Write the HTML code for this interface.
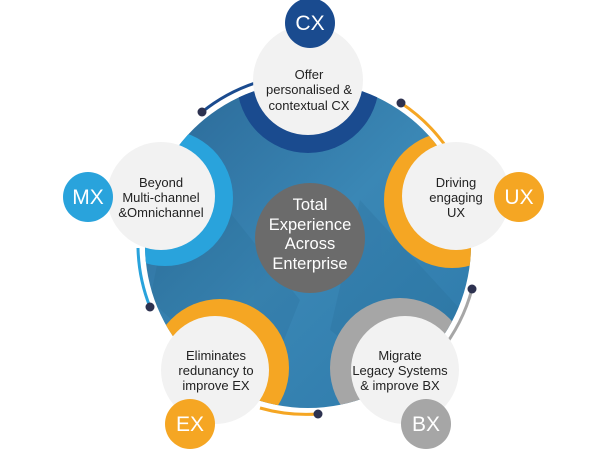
<!DOCTYPE html>
<html><head><meta charset="utf-8"><style>
html,body{margin:0;padding:0;background:#fff;}
svg{display:block;}
text{font-family:"Liberation Sans","DejaVu Sans",sans-serif;}
</style></head><body>
<svg width="600" height="450" viewBox="0 0 600 450" xmlns="http://www.w3.org/2000/svg">
<defs>
<linearGradient id="bg" x1="0" y1="0" x2="1" y2="1">
<stop offset="0" stop-color="#2a6796"/><stop offset="0.5" stop-color="#3a87b5"/><stop offset="1" stop-color="#2d79aa"/>
</linearGradient>
<clipPath id="big"><circle cx="308" cy="245" r="163"/></clipPath>
</defs>
<g fill="none" stroke-width="3">
<path d="M202,112 A170,170 0 0 1 255,83" stroke="#1a4b8f"/>
<path d="M401,103 A170,170 0 0 1 447,148" stroke="#f5a623"/>
<path d="M472,289 A170,170 0 0 1 440,352" stroke="#a6a6a6"/>
<path d="M260,408 A170,170 0 0 0 318,414" stroke="#f5a623"/>
<path d="M150,307 A170,170 0 0 1 138,248" stroke="#29a3dc"/>
</g>
<g fill="#2d3250">
<circle cx="202" cy="112" r="4.5"/><circle cx="401" cy="103" r="4.5"/><circle cx="472" cy="289" r="4.5"/><circle cx="318" cy="414" r="4.5"/><circle cx="150" cy="307" r="4.5"/>
</g>
<circle cx="308" cy="245" r="163" fill="url(#bg)"/>
<g clip-path="url(#big)" opacity="0.08" fill="#0d3a5e">
<polygon points="180,150 300,300 260,400 150,300"/>
<polygon points="360,200 470,320 420,400 330,330"/>
</g>
<g clip-path="url(#big)">
<circle cx="308" cy="82" r="71" fill="#1a4b8f"/>
<circle cx="165" cy="198" r="68" fill="#29a3dc"/>
<circle cx="452" cy="200" r="68" fill="#f5a623"/>
<circle cx="220" cy="368" r="69" fill="#f5a623"/>
<circle cx="400" cy="368" r="70" fill="#a6a6a6"/>
</g>
<g fill="#f2f2f2">
<circle cx="308" cy="80" r="55"/>
<circle cx="161" cy="196" r="54"/>
<circle cx="456" cy="196" r="54"/>
<circle cx="215" cy="370" r="54"/>
<circle cx="405" cy="370" r="54"/>
</g>
<circle cx="310" cy="238" r="55" fill="#6b6b6b"/>
<circle cx="310" cy="23" r="25" fill="#1a4b8f"/>
<circle cx="88" cy="197" r="25" fill="#29a3dc"/>
<circle cx="519" cy="197" r="25" fill="#f5a623"/>
<circle cx="190" cy="424" r="25" fill="#f5a623"/>
<circle cx="426" cy="424" r="25" fill="#a6a6a6"/>
<g fill="#fff" font-size="21" text-anchor="middle">
<text x="310" y="30">CX</text><text x="88" y="204">MX</text><text x="519" y="204">UX</text><text x="190" y="431">EX</text><text x="426" y="431">BX</text>
</g>
<g fill="#fff" font-size="16.5" text-anchor="middle">
<text x="310" y="210">Total</text><text x="310" y="230">Experience</text><text x="310" y="249">Across</text><text x="310" y="269">Enterprise</text>
</g>
<g fill="#222" font-size="13" text-anchor="middle">
<text x="309" y="79">Offer</text><text x="309" y="94">personalised &amp;</text><text x="309" y="110">contextual CX</text>
<text x="161" y="187">Beyond</text><text x="161" y="202">Multi-channel</text><text x="161" y="217">&amp;Omnichannel</text>
<text x="456" y="187">Driving</text><text x="456" y="202">engaging</text><text x="456" y="217">UX</text>
<text x="216" y="360">Eliminates</text><text x="216" y="375">redunancy to</text><text x="216" y="390">improve EX</text>
<text x="400" y="360">Migrate</text><text x="400" y="375">Legacy Systems</text><text x="400" y="390">&amp; improve BX</text>
</g>
</svg>
</body></html>
